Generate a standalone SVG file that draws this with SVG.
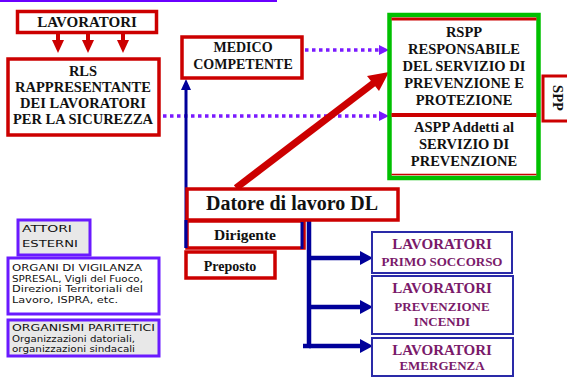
<svg xmlns="http://www.w3.org/2000/svg" width="567" height="377" viewBox="0 0 567 377">
<defs>
<style>
.rb{fill:#fff;stroke:#CC0000;stroke-width:3.5}
.bt{font-family:'Liberation Serif','DejaVu Serif','Times New Roman',serif;font-weight:bold;fill:#111;text-anchor:middle}
.pt{font-family:'Liberation Serif','DejaVu Serif','Times New Roman',serif;font-weight:bold;fill:#7A1A6A;text-anchor:middle}
.bb{fill:#fff;stroke:#2A2AA8;stroke-width:2}
.ext{stroke:#6A1AFF;stroke-width:3}
.ct{font-family:'DejaVu Sans',sans-serif;font-size:9.5px;fill:#111}
.dot{stroke:#7A1AFF;stroke-width:3.5;stroke-dasharray:3.5 3.5;fill:none}
.blue{stroke:#00009A;fill:none}
</style>
</defs>
<rect width="567" height="377" fill="#fff"/>
<line x1="0" y1="1" x2="277" y2="1" stroke="#6A00FF" stroke-width="2"/>

<g id="connectors">
  <g fill="#CC0000" stroke="#CC0000">
    <line x1="58" y1="33" x2="58" y2="41" stroke-width="4"/>
    <polygon points="52,40 64,40 58,53" stroke="none"/>
    <line x1="88" y1="33" x2="88" y2="41" stroke-width="4"/>
    <polygon points="82,40 94,40 88,53" stroke="none"/>
    <line x1="123" y1="33" x2="123" y2="41" stroke-width="4"/>
    <polygon points="117,40 129,40 123,53" stroke="none"/>
  </g>
  <line class="dot" x1="305" y1="50" x2="380" y2="50"/>
  <polygon points="379,45 389,50 379,55" fill="#7A1AFF"/>
  <line class="dot" x1="163" y1="116" x2="380" y2="116"/>
  <polygon points="379,111 389,116 379,121" fill="#7A1AFF"/>
  <line x1="236" y1="188" x2="375" y2="82" stroke="#CC0000" stroke-width="7"/>
  <polygon points="389,72 367,76 379,91" fill="#CC0000"/>
  <line class="blue" x1="186" y1="88" x2="186" y2="248" stroke-width="3"/>
  <polygon points="181,90 191,90 186,79" fill="#00009A"/>
  <line class="blue" x1="309" y1="218" x2="309" y2="348" stroke-width="4.5"/>
  <line class="blue" x1="303" y1="346" x2="311" y2="346" stroke-width="4.5"/>
  <line class="blue" x1="309" y1="258" x2="362" y2="258" stroke-width="4.5"/>
  <polygon points="360,251 373,258 360,265" fill="#00009A"/>
  <line class="blue" x1="309" y1="307" x2="362" y2="307" stroke-width="4.5"/>
  <polygon points="360,300 373,307 360,314" fill="#00009A"/>
  <line class="blue" x1="309" y1="346" x2="362" y2="346" stroke-width="4.5"/>
  <polygon points="360,339 373,346 360,353" fill="#00009A"/>
</g>

<g id="lavoratori">
  <rect class="rb" x="17.5" y="11.5" width="139" height="21"/>
  <text class="bt" x="87" y="27" font-size="15">LAVORATORI</text>
</g>

<g id="rls">
  <rect class="rb" x="8" y="59" width="151" height="76" stroke-width="4"/>
  <text class="bt" font-size="14.5"><tspan x="83" y="76">RLS</tspan><tspan x="83" y="92">RAPPRESENTANTE</tspan><tspan x="83" y="108">DEI LAVORATORI</tspan><tspan x="83" y="124">PER LA SICUREZZA</tspan></text>
</g>

<g id="medico">
  <rect class="rb" x="182" y="37" width="120" height="41"/>
  <text class="bt" font-size="14"><tspan x="243" y="52">MEDICO</tspan><tspan x="243" y="69">COMPETENTE</tspan></text>
</g>

<g id="spp">
  <rect x="543" y="76" width="30" height="45" fill="#fff" stroke="#CC0000" stroke-width="3"/>
  <text class="bt" font-size="14.5" transform="translate(553,98) rotate(90)">SPP</text>
</g>

<g id="rspp">
  <rect x="389.5" y="15" width="149" height="163" fill="#fff" stroke="#00C000" stroke-width="4.5"/>
  <line x1="391.5" y1="19" x2="536.5" y2="19" stroke="#CC0000" stroke-width="3"/>
  <line x1="391.5" y1="115" x2="536.5" y2="115" stroke="#CC0000" stroke-width="4"/>
  <line x1="391.5" y1="174.5" x2="536.5" y2="174.5" stroke="#CC0000" stroke-width="1.5"/>
  <text class="bt" font-size="14.5"><tspan x="464" y="37">RSPP</tspan><tspan x="464" y="54">RESPONSABILE</tspan><tspan x="464" y="71">DEL SERVIZIO DI</tspan><tspan x="464" y="88">PREVENZIONE E</tspan><tspan x="464" y="105">PROTEZIONE</tspan></text>
  <text class="bt" font-size="14.5"><tspan x="464" y="132">ASPP Addetti al</tspan><tspan x="464" y="149">SERVIZIO DI</tspan><tspan x="464" y="166">PREVENZIONE</tspan></text>
</g>

<g id="datore">
  <rect class="rb" x="187" y="189" width="211" height="31" stroke-width="4"/>
  <text class="bt" x="292" y="210" font-size="20">Datore di lavoro DL</text>
</g>

<g id="dirigente">
  <rect class="rb" x="187" y="221" width="117" height="27"/>
  <line x1="302" y1="222" x2="302" y2="249" stroke="#00009A" stroke-width="3"/>
  <text class="bt" x="245" y="240" font-size="15.5">Dirigente</text>
</g>
<line x1="186" y1="220" x2="186" y2="248" stroke="#00009A" stroke-width="3"/>

<g id="preposto">
  <rect class="rb" x="186" y="252" width="89" height="26" stroke-width="4"/>
  <text class="bt" x="230" y="271" font-size="14">Preposto</text>
</g>

<g id="primo-soccorso">
  <rect class="bb" x="372" y="232" width="140" height="41"/>
  <text class="pt"><tspan x="442" y="249" font-size="15">LAVORATORI</tspan><tspan x="442" y="266" font-size="13">PRIMO SOCCORSO</tspan></text>
</g>

<g id="prevenzione-incendi">
  <rect class="bb" x="372" y="276" width="141" height="58"/>
  <text class="pt"><tspan x="442" y="293" font-size="15">LAVORATORI</tspan><tspan x="442" y="311" font-size="13">PREVENZIONE</tspan><tspan x="442" y="326" font-size="13">INCENDI</tspan></text>
</g>

<g id="emergenza">
  <rect class="bb" x="372" y="338" width="141" height="38"/>
  <text class="pt"><tspan x="442" y="355" font-size="15">LAVORATORI</tspan><tspan x="442" y="370" font-size="13">EMERGENZA</tspan></text>
</g>

<g id="attori-esterni">
  <rect class="ext" x="18" y="220" width="72" height="35" fill="#E8E8E8"/>
  <text class="ct" font-size="11"><tspan x="22" y="232" textLength="50" lengthAdjust="spacingAndGlyphs">ATTORI</tspan><tspan x="22" y="247" textLength="56" lengthAdjust="spacingAndGlyphs">ESTERNI</tspan></text>
</g>

<g id="organi-vigilanza">
  <rect class="ext" x="8" y="258" width="151" height="56" fill="#fff"/>
  <text class="ct"><tspan x="12" y="271" textLength="130" lengthAdjust="spacingAndGlyphs">ORGANI DI VIGILANZA</tspan><tspan x="12" y="281.5" textLength="131" lengthAdjust="spacingAndGlyphs">SPRESAL, Vigli del Fuoco,</tspan><tspan x="12" y="292" textLength="131" lengthAdjust="spacingAndGlyphs">Direzioni Territoriali del</tspan><tspan x="12" y="302.5" textLength="106" lengthAdjust="spacingAndGlyphs">Lavoro, ISPRA, etc.</tspan></text>
</g>

<g id="organismi-paritetici">
  <rect class="ext" x="8" y="320" width="151" height="36" fill="#E8E8E8"/>
  <text class="ct"><tspan x="12" y="331" textLength="143" lengthAdjust="spacingAndGlyphs">ORGANISMI PARITETICI</tspan><tspan x="12" y="341.5" textLength="123" lengthAdjust="spacingAndGlyphs">Organizzazioni datoriali,</tspan><tspan x="12" y="352" textLength="123" lengthAdjust="spacingAndGlyphs">organizzazioni sindacali</tspan></text>
</g>
</svg>
